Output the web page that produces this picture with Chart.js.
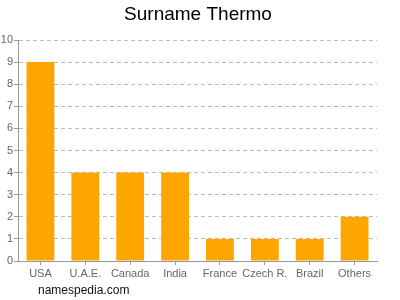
<!DOCTYPE html>
<html>
<head>
<meta charset="utf-8">
<script src="https://cdn.jsdelivr.net/npm/chart.js@4"></script>
<style>
  html, body { margin: 0; padding: 0; background: #fff; }
  #wrap { width: 400px; height: 300px; position: relative; }
</style>
</head>
<body>
<div id="wrap"><canvas id="chart" width="400" height="300"></canvas></div>
<script>
// ── Data ──────────────────────────────────────────────────
const countries = ['USA', 'U.A.E.', 'Canada', 'India', 'France', 'Czech R.', 'Brazil', 'Others'];
const counts    = [9, 4, 4, 4, 1, 1, 1, 2];
const yTicks    = [0, 1, 2, 3, 4, 5, 6, 7, 8, 9, 10];

const FONT = "'Liberation Sans', Arial, sans-serif";

// title + footer text drawn on the canvas
const textPlugin = {
  id: 'texts',
  afterDraw(chart) {
    const ctx = chart.ctx;
    ctx.save();
    ctx.fillStyle = '#000';
    ctx.textAlign = 'center';
    ctx.textBaseline = 'middle';
    ctx.font = '19px ' + FONT;
    ctx.fillText('Surname Thermo', 198, 15);
    ctx.textAlign = 'left';
    ctx.font = '12px ' + FONT;
    ctx.fillStyle = '#111';
    ctx.fillText('namespedia.com', 38, 291);
    ctx.restore();
  }
};

new Chart(document.getElementById('chart'), {
  type: 'bar',
  data: {
    labels: countries,
    datasets: [{
      data: counts,
      backgroundColor: '#ffa500',
      borderWidth: 0,
      inflateAmount: 0,
      barPercentage: 0.62,
      categoryPercentage: 1.0,
    }]
  },
  options: {
    responsive: false,
    animation: false,
    layout: { padding: { left: 0, right: 23, top: 40, bottom: 0 } },
    plugins: { legend: { display: false }, tooltip: { enabled: false }, title: { display: false } },
    scales: {
      x: {
        afterFit: s => { s.height = 39; },
        grid: { offset: false, drawOnChartArea: false, color: '#999', tickColor: '#999', tickLength: 4 },
        border: { color: '#999' },
        ticks: { color: '#666', font: { family: FONT, size: 11 }, padding: 2, maxRotation: 0, autoSkip: false }
      },
      y: {
        min: 0, max: 10,
        afterFit: s => { s.width = 18; },
        afterBuildTicks: s => { s.ticks = yTicks.map(v => ({ value: v })); },
        grid: { color: '#bbb', tickColor: '#999', tickLength: 4, tickBorderDash: [] },
        border: { color: '#999', dash: [4, 3] },
        ticks: { color: '#666', font: { family: FONT, size: 11 }, padding: 1 }
      }
    }
  },
  plugins: [textPlugin]
});
</script>
</body>
</html>
